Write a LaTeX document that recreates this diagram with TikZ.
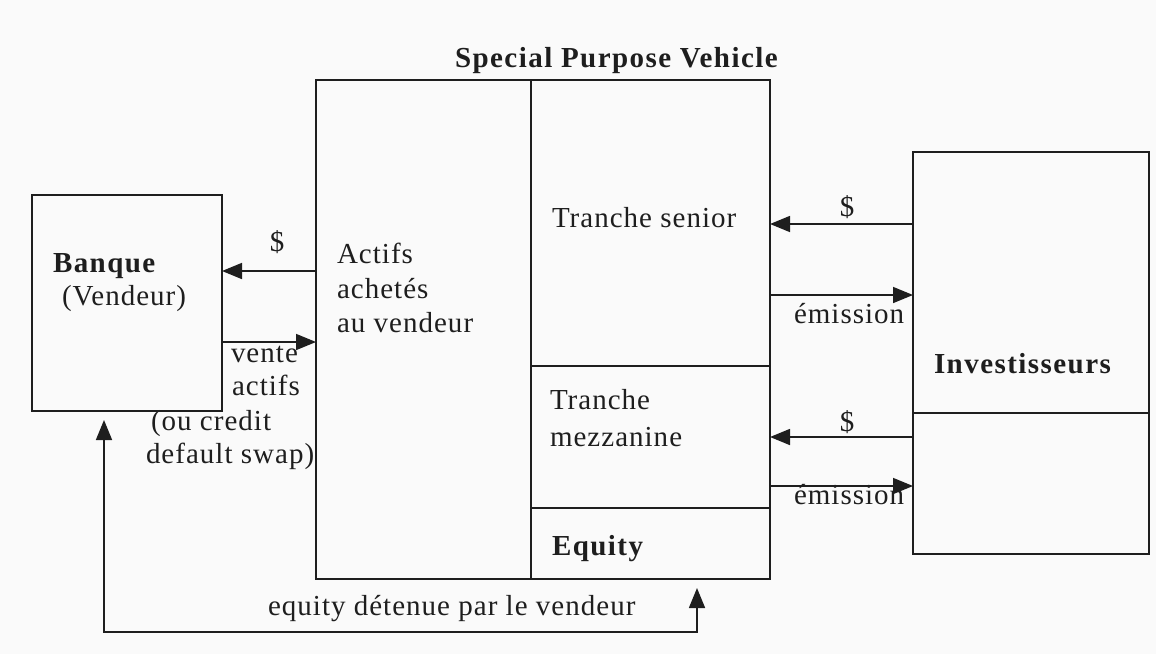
\documentclass[tikz,border=0pt]{standalone}
\usepackage{fontspec}
\setmainfont{Liberation Serif}[LetterSpace=3.5, BoldFeatures={LetterSpace=5}]
\usetikzlibrary{arrows.meta}
\definecolor{bg}{HTML}{FAFAFA}
\definecolor{ink}{HTML}{1E1E1E}
\tikzset{
  box/.style={draw=ink, line width=1.6pt, inner sep=0pt, outer sep=0pt, anchor=north west},
  arr/.style={draw=ink, line width=1.6pt, -{Triangle[length=20pt,width=16pt]}},
  arrtwo/.style={draw=ink, line width=1.6pt, {Triangle[length=20pt,width=16pt]}-{Triangle[length=20pt,width=16pt]}},
  txt/.style={inner sep=0pt, outer sep=0pt, anchor=base west, text=ink, font=\fontsize{29}{34}\selectfont},
  btxt/.style={txt, font=\fontsize{29}{34}\selectfont\bfseries},
}
\begin{document}
\begin{tikzpicture}[x=1pt,y=-1pt]
\fill[bg] (0,0) rectangle (1156,654);
\useasboundingbox (0,0) rectangle (1156,654);
% boxes
\node[box, minimum width=190pt, minimum height=216pt] (banque) at (32,195) {};
\node[box, minimum width=215pt, minimum height=499pt] (actifs) at (316,80) {};
\node[box, minimum width=239pt, minimum height=286pt] (senior) at (531,80) {};
\node[box, minimum width=239pt, minimum height=142pt] (mezz) at (531,366) {};
\node[box, minimum width=239pt, minimum height=71pt] (equity) at (531,508) {};
\node[box, minimum width=236pt, minimum height=261pt] (invtop) at (913,152) {};
\node[box, minimum width=236pt, minimum height=141pt] (invbot) at (913,413) {};
% texts
\node[btxt] (tspv) at (455,67) {Special Purpose Vehicle};
\node[btxt] (tbanque) at (53,272) {Banque};
\node[txt] (tvendeur) at (62,305) {(Vendeur)};
\node[txt] (tact1) at (337,263) {Actifs};
\node[txt] (tact2) at (337,298) {achetés};
\node[txt] (tact3) at (337,332) {au vendeur};
\node[txt] (tsenior) at (552,227) {Tranche senior};
\node[txt] (tmez1) at (550,409) {Tranche};
\node[txt] (tmez2) at (550,446) {mezzanine};
\node[btxt] (tequity) at (552,555) {Equity};
\node[btxt] (tinv) at (934,373) {Investisseurs};
\node[txt] (tvente) at (231,362) {vente};
\node[txt] (tactifs) at (232,395) {actifs};
\node[txt] (touc) at (151,430) {(ou credit};
\node[txt] (tdef) at (146,463) {default swap)};
\node[txt, anchor=center] (td1) at (277,242) {\$};
\node[txt, anchor=center] (td2) at (847,207) {\$};
\node[txt, anchor=center] (td3) at (847,422) {\$};
\node[txt] (tem1) at (794,323) {émission};
\node[txt] (tem2) at (794,504) {émission};
\node[txt] (tdet) at (268,615) {equity détenue par le vendeur};
% connectors
\draw[arr] (actifs.west |- 0,271) -- (banque.east |- 0,271);
\draw[arr] (banque.east |- 0,342) -- (actifs.west |- 0,342);
\draw[arr] (invtop.west |- 0,224) -- (senior.east |- 0,224);
\draw[arr] (senior.east |- 0,295) -- (invtop.west |- 0,295);
\draw[arr] (invbot.west |- 0,437) -- (mezz.east |- 0,437);
\draw[arr] (mezz.east |- 0,486) -- (invbot.west |- 0,486);
\coordinate (c1) at (104,632);
\coordinate (c2) at (697,632);
\draw[arrtwo, shorten <=9pt, shorten >=9pt] (banque.south -| c1) -- (c1) -- (c2) -- (equity.south -| c2);
\end{tikzpicture}
\end{document}
